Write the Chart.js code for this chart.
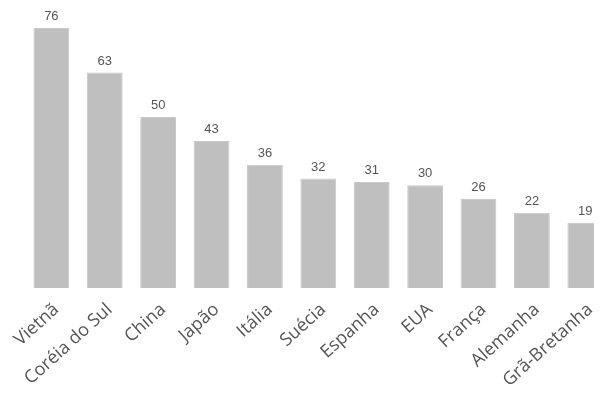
<!DOCTYPE html>
<html>
<head>
<meta charset="utf-8">
<script src="https://cdn.jsdelivr.net/npm/chart.js@4/dist/chart.umd.min.js"></script>
<style>
  html, body { margin: 0; padding: 0; overflow: hidden; background: #fff; }
  #wrap { position: relative; width: 612px; height: 399px; }
  #edge { position: absolute; left: 594px; top: 0; width: 30px; height: 399px; background: #fff; }
</style>
</head>
<body>
<div id="wrap">
  <canvas id="chart"></canvas>
  <div id="edge"></div>
</div>
<script>
const categories = ['Vietnã', 'Coréia do Sul', 'China', 'Japão', 'Itália', 'Suécia', 'Espanha', 'EUA', 'França', 'Alemanha', 'Grã-Bretanha'];
const values = [76, 63, 50, 43, 36, 32, 31, 30, 26, 22, 19];

// draw the number above each bar
const valueLabels = {
    id: 'valueLabels',
    afterDatasetsDraw(chart) {
        const ctx = chart.ctx;
        const meta = chart.getDatasetMeta(0);
        ctx.save();
        ctx.font = '13px "Liberation Sans", Arial, sans-serif';
        ctx.fillStyle = '#555';
        ctx.textAlign = 'center';
        ctx.textBaseline = 'bottom';
        meta.data.forEach((bar, i) => {
            ctx.fillText(values[i], bar.x, bar.y - 5);
        });
        ctx.restore();
    }
};

const ctx = document.getElementById('chart').getContext('2d');
new Chart(ctx, {
    type: 'bar',
    data: {
        labels: categories,
        datasets: [{
            data: values,
            backgroundColor: '#bfbfbf',
            borderColor: '#c8c8c8',
            borderWidth: 1,
            barPercentage: 0.67,
            categoryPercentage: 1
        }]
    },
    options: {
        responsive: true,
        maintainAspectRatio: false,
        animation: false,
        layout: { padding: { left: 24, right: 0, top: 28, bottom: 0 } },
        plugins: {
            legend: { display: false },
            tooltip: { enabled: false }
        },
        scales: {
            x: {
                grid: { display: false, drawTicks: false },
                border: { display: false },
                ticks: {
                    minRotation: 42,
                    maxRotation: 42,
                    padding: 11,
                    labelOffset: 5,
                    color: '#555',
                    font: { family: '"Open Sans", sans-serif', size: 18 }
                },
                afterFit: function(scale) { scale.height = 111; }
            },
            y: {
                display: false,
                min: 0,
                max: 76
            }
        }
    },
    plugins: [valueLabels]
});
</script>
</body>
</html>
